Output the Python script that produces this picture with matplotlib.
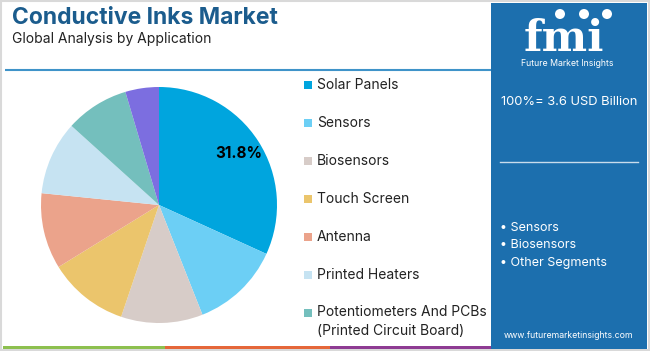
import matplotlib
matplotlib.use("Agg")
import matplotlib.pyplot as plt
from matplotlib.patches import Rectangle, Circle

# data
categories = ["Solar Panels", "Sensors", "Biosensors", "Touch Screen", "Antenna",
              "Printed Heaters", "Potentiometers And PCBs\n(Printed Circuit Board)", "Others"]
shares = [31.8, 12.2, 11.2, 11.0, 10.4, 10.1, 8.7, 4.6]
colors = ["#00a5de", "#6ccff5", "#d7ccc8", "#ebc56c", "#eba38b", "#c6e3f2", "#74bfbd", "#7c6ee0"]
legend_items = categories[:7]
panel_bullets = ["Sensors", "Biosensors", "Other Segments"]

W, H = 650, 351
BLUE = "#1c6fae"
plt.rcParams['font.family'] = ['Inter', 'DejaVu Sans']

fig = plt.figure(figsize=(W / 100, H / 100), dpi=100)

# full-figure axes in pixel coords for decorations
bg = fig.add_axes([0, 0, 1, 1], zorder=0)
bg.set_xlim(0, W)
bg.set_ylim(H, 0)
bg.axis('off')

# light frame
bg.add_patch(Rectangle((1, 1), W - 2, H - 2, fill=False, ec="#d9d9d9", lw=1.5))

# title block
bg.text(12, 18, "Conductive Inks Market", fontsize=16.5, fontweight='bold',
        color="#1b5c8d", va='center', ha='left')
bg.text(12, 39, "Global Analysis by Application", fontsize=10, color="#222222",
        va='center', ha='left')
bg.plot([5, 491], [69.5, 69.5], color="#3f93c9", lw=1.5, solid_capstyle='butt')

# bottom colour strip
for x0, x1, c in [(3, 165, "#8dc04f"), (165, 330, "#e5673a"), (330, 492, "#8e3b93")]:
    bg.add_patch(Rectangle((x0, 345.5), x1 - x0, 3, color=c, lw=0))

# right panel
bg.add_patch(Rectangle((491, 3), 156, 346, color=BLUE, lw=0))
bg.text(564, 51, "fmi", fontsize=31, fontweight='bold', family='DejaVu Serif',
        color='white', ha='center', va='baseline')
for y in range(22, 53, 3):
    bg.plot([510, 625], [y, y], color=BLUE, lw=0.7)
for cx in (560, 584, 607):
    bg.add_patch(Circle((cx, 14), 5, color='white', lw=0))
bg.text(567, 63.5, "Future Market Insights", fontsize=6.3, color='white',
        ha='center', va='center')
bg.text(569, 102, "100%= 3.6 USD Billion", fontsize=9.3, color='white',
        ha='center', va='center')
bg.plot([500, 638], [161.5, 161.5], color='#c9dcec', lw=1)
for i, b in enumerate(panel_bullets):
    bg.text(500, 228 + i * 17.3, "\u2022 " + b, fontsize=9, color='white',
            ha='left', va='center')
bg.text(569, 335, "www.futuremarketinsights.com", fontsize=6.3, color='white',
        ha='center', va='center')

# legend
for i, lab in enumerate(legend_items):
    y = 85 + i * 38
    bg.add_patch(Rectangle((304, y - 4), 8, 8, color=colors[i], lw=0))
    if '\n' in lab:
        bg.text(317, y - 8, lab, fontsize=10, color="#222222", ha='left',
                va='top', linespacing=1.45)
    else:
        bg.text(317, y, lab, fontsize=10, color="#222222", ha='left', va='center')

# pie
cx, cy, r = 159, 205, 118
ax = fig.add_axes([(cx - r) / W, (H - cy - r) / H, 2 * r / W, 2 * r / H], zorder=1)
ax.pie(shares, colors=colors, startangle=90, counterclock=False, radius=1,
       autopct=lambda p: f"{p:.1f}%" if p > 30 else "", pctdistance=0.8,
       wedgeprops=dict(lw=0), textprops=dict(fontsize=11, fontweight='bold', color='black'))
ax.set_xlim(-1, 1)
ax.set_ylim(-1, 1)
ax.set_aspect('equal')

fig.savefig("out.png", dpi=100)
